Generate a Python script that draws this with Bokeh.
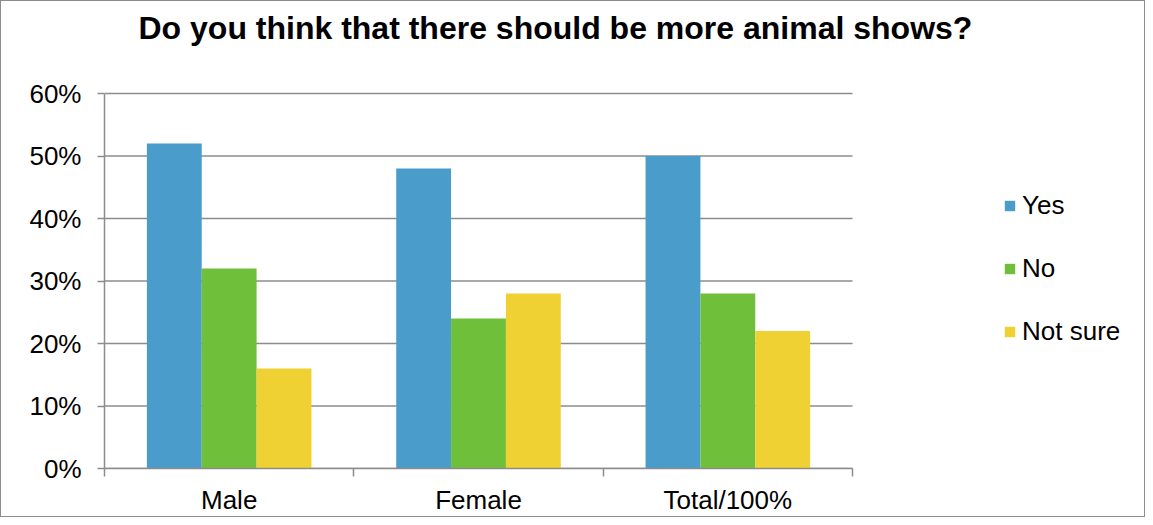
from bokeh.plotting import figure
from bokeh.models import (ColumnDataSource, Range1d, FixedTicker, Legend, LegendItem, Label)
from bokeh.embed import file_html
from bokeh.resources import INLINE

categories = ["Male", "Female", "Total/100%"]
series_names = ["Yes", "No", "Not sure"]
yes = [52, 48, 50]
no = [32, 24, 28]
not_sure = [16, 28, 22]
y_ticks = [0, 10, 20, 30, 40, 50, 60]
title_text = "Do you think that there should be more animal shows?"

colors = ["#4a9ccb", "#70bf3b", "#f0d133"]
FONT = "Liberation Sans"
GRID = "#8c8c8c"
bar_w = 0.22

W, H = 1145, 517
# plot-area edges (canvas px) of the category/value region
FL, FR, FT, FB = 103, 851, 92, 467
n = len(categories)
y_max = y_ticks[-1]
# the frame spans to the right and top edges of the canvas so that the
# legend and title (drawn inside it) are not clipped
x_end = n * (W - FL) / (FR - FL)
y_end = y_max * FB / (FB - FT)

p = figure(width=W, height=H, output_backend="svg", toolbar_location=None,
           x_range=Range1d(0, x_end), y_range=Range1d(0, y_end),
           min_border_left=FL, min_border_right=0,
           min_border_top=0, min_border_bottom=H - FB)
p.styles = {"border": "1px solid #8c8c8c"}
p.outline_line_color = None
p.background_fill_color = "white"
p.border_fill_color = "white"

# horizontal gridlines over the category region only
p.segment(x0=[0] * len(y_ticks), x1=[n] * len(y_ticks), y0=y_ticks, y1=y_ticks,
          line_color=GRID, line_width=1.5)

series = [yes, no, not_sure]
renderers = []
for j, (name, vals) in enumerate(zip(series_names, series)):
    xs = [i + 0.5 + (j - 1) * bar_w for i in range(n)]
    src = ColumnDataSource(dict(x=xs, top=vals))
    r = p.vbar(x="x", top="top", width=bar_w, bottom=0, source=src,
               fill_color=colors[j], line_color=None)
    renderers.append((name, r))

# x axis: labels at category centers, tick marks at category boundaries
xt = FixedTicker(ticks=[i + 0.5 for i in range(n)], minor_ticks=list(range(n + 1)))
p.xaxis.ticker = xt
p.xaxis.bounds = (0, n)
p.xaxis.major_label_overrides = {i + 0.5: c for i, c in enumerate(categories)}
p.xaxis.major_tick_out = 0
p.xaxis.major_tick_in = 0
p.xaxis.minor_tick_out = 8
p.xaxis.minor_tick_in = 0
p.xaxis.minor_tick_line_color = GRID
p.xaxis.minor_tick_line_width = 1.5
p.xaxis.axis_line_color = GRID
p.xaxis.axis_line_width = 1.5
p.xaxis.major_label_text_font = FONT
p.xaxis.major_label_text_font_size = "26px"
p.xaxis.major_label_text_color = "black"
p.xaxis.major_label_standoff = 8

p.yaxis.ticker = FixedTicker(ticks=y_ticks)
p.yaxis.bounds = (0, y_max)
p.yaxis.major_label_overrides = {t: f"{t}%" for t in y_ticks}
p.yaxis.major_tick_out = 7
p.yaxis.major_tick_in = 0
p.yaxis.minor_tick_out = 0
p.yaxis.minor_tick_in = 0
p.yaxis.major_tick_line_color = GRID
p.yaxis.major_tick_line_width = 1.5
p.yaxis.axis_line_color = GRID
p.yaxis.axis_line_width = 1.5
p.yaxis.major_label_text_font = FONT
p.yaxis.major_label_text_font_size = "26px"
p.yaxis.major_label_text_color = "black"
p.yaxis.major_label_standoff = 16

p.xgrid.grid_line_color = None
p.ygrid.grid_line_color = None

title = Label(x=0, y=y_end, x_offset=34, y_offset=-26, text=title_text,
              text_font=FONT, text_font_size="32px", text_font_style="bold",
              text_color="black", text_align="left", text_baseline="alphabetic")
p.add_layout(title)

legend = Legend(items=[LegendItem(label=nm, renderers=[r]) for nm, r in renderers],
                location=(899, 121), orientation="vertical",
                glyph_width=13, glyph_height=13, label_standoff=6,
                label_height=30, spacing=32, padding=0, margin=0,
                border_line_color=None, background_fill_alpha=0,
                label_text_font=FONT, label_text_font_size="26px",
                label_text_color="black")
p.add_layout(legend)

open("out.html", "w").write(file_html(p, INLINE))
